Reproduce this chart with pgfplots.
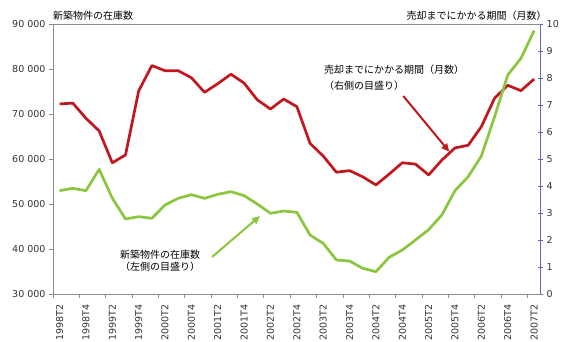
\documentclass[border=0pt]{standalone}
\usepackage{pgfplots}
\pgfplotsset{compat=1.18}
\usetikzlibrary{arrows.meta}
\usepackage{fontspec}
\setmainfont{DejaVu Sans}
\newfontfamily\cjk{Noto Sans CJK JP}
\definecolor{redl}{HTML}{C0181E}
\definecolor{greenl}{HTML}{8CC63E}
\definecolor{raxis}{HTML}{6464B4}
\definecolor{gaxis}{HTML}{8C8C8C}
\definecolor{tlab}{HTML}{333333}

\begin{document}
\begin{tikzpicture}
\useasboundingbox (-53bp,-48bp) rectangle (527bp,294bp);
% right axis: months, red series
\begin{axis}[
  scale only axis, width=487.7bp, height=270bp,
  xmin=-0.5, xmax=36.5, ymin=0, ymax=10,
  axis x line*=top, axis y line*=right,
  xtick=\empty,
  x axis line style={draw=gaxis, line width=0.8bp},
  y axis line style={draw=raxis, line width=0.8bp},
  ytick={0,1,...,10},
  ytick style={draw=raxis, line width=0.8bp},
  tick align=center, major tick length=5bp,
  yticklabel style={font=\fontsize{9.5bp}{11bp}\selectfont, text=tlab},
  /pgf/number format/assume math mode=true,
]
\addplot[redl, line width=2.7bp, line join=round, no markers] coordinates {
(0,7.04) (1,7.07) (2,6.51) (3,6.04) (4,4.86) (5,5.15) (6,7.52) (7,8.46)
(8,8.27) (9,8.27) (10,8.01) (11,7.47) (12,7.79) (13,8.14) (14,7.81) (15,7.19)
(16,6.85) (17,7.22) (18,6.94) (19,5.58) (20,5.11) (21,4.51) (22,4.57) (23,4.34)
(24,4.04) (25,4.44) (26,4.86) (27,4.81) (28,4.41) (29,4.96) (30,5.41) (31,5.51)
(32,6.20) (33,7.25) (34,7.73) (35,7.53) (36,7.96)
};
\end{axis}
% left axis: stock, green series
\begin{axis}[
  scale only axis, width=487.7bp, height=270bp,
  xmin=-0.5, xmax=36.5, ymin=30000, ymax=90000,
  axis x line*=bottom, axis y line*=left,
  axis line style={draw=gaxis, line width=0.8bp},
  xtick={0,2,...,36},
  xticklabels={1998T2,1998T4,1999T2,1999T4,2000T2,2000T4,2001T2,2001T4,2002T2,2002T4,2003T2,2003T4,2004T2,2004T4,2005T2,2005T4,2006T2,2006T4,2007T2},
  minor xtick={-0.5,1.5,...,35.5},
  major x tick style={draw=none},
  minor x tick style={draw=gaxis, line width=0.8bp},
  minor tick length=4bp,
  scaled y ticks=false,
  ytick={30000,40000,...,90000},
  yticklabels={30 000,40 000,50 000,60 000,70 000,80 000,90 000},
  major y tick style={draw=gaxis, line width=0.8bp},
  tick align=outside, major tick length=4bp,
  xticklabel style={font=\fontsize{9.5bp}{11bp}\selectfont, text=tlab, rotate=90, anchor=east, xshift=-3bp},
  yticklabel style={font=\fontsize{9.5bp}{11bp}\selectfont, text=tlab},
  /pgf/number format/assume math mode=true,
]
\addplot[greenl, line width=2.7bp, line join=round, no markers] coordinates {
(0,52960) (1,53480) (2,52960) (3,57710) (4,51300) (5,46670) (6,47190) (7,46820)
(8,49780) (9,51260) (10,52070) (11,51260) (12,52150) (13,52740) (14,51850) (15,50000)
(16,47930) (17,48440) (18,48150) (19,43110) (20,41260) (21,37560) (22,37330) (23,35700)
(24,34960) (25,38150) (26,39780) (27,42000) (28,44300) (29,47560) (30,52960) (31,56070)
(32,60670) (33,69400) (34,78670) (35,82370) (36,88520)
};
\end{axis}
% titles
\node[anchor=south west, inner sep=0pt, font=\cjk\fontsize{10bp}{12bp}\selectfont] at (0bp,273bp) {新築物件の在庫数};
\node[anchor=south east, inner sep=0pt, font=\cjk\fontsize{10bp}{12bp}\selectfont] at (493.7bp,273bp) {売却までにかかる期間（月数）};
% annotations
\node[anchor=north west, inner sep=0pt, align=left, font=\cjk\fontsize{10bp}{16bp}\selectfont] at (271bp,229bp) {売却までにかかる期間（月数）\\（右側の目盛り）};
\node[anchor=center, inner sep=0pt, align=center, font=\cjk\fontsize{10bp}{12bp}\selectfont] at (107bp,33bp) {新築物件の在庫数\\（左側の目盛り）};
\draw[redl, line width=2bp, -{Triangle[length=8bp,width=7bp]}] (350.3bp,198bp) -- (396.3bp,142.3bp);
\draw[greenl, line width=2bp, -{Triangle[length=8bp,width=7bp]}] (159bp,37bp) -- (207bp,78bp);
\end{tikzpicture}
\end{document}
